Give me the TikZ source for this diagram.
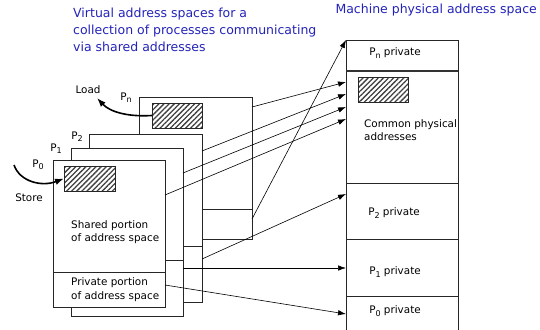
\documentclass[tikz,border=0pt]{standalone}
\usepackage{fontspec}
\setmainfont{DejaVu Sans}
\usetikzlibrary{arrows.meta,patterns.meta}
\definecolor{titleblue}{RGB}{35,35,185}
\newcommand\lowsub[1]{\raisebox{-0.4ex}{\fontsize{8}{8}\selectfont #1}}

\begin{document}
\begin{tikzpicture}[x=1pt,y=-1pt,
  space/.style={draw=black!85, line width=0.7pt, fill=white, inner sep=0, outer sep=0},
  hatch/.style={draw=black!85, line width=0.7pt, inner sep=0, outer sep=0,
    pattern={Lines[angle=45,distance=3.6pt,line width=1.3pt]}, pattern color=black!75},
  link/.style={-{Latex[length=8pt,width=5.5pt]}, line width=0.6pt},
  access/.style={-{Latex[length=9pt,width=6.5pt]}, line width=1.6pt},
  lbl/.style={font=\fontsize{10.4}{13.6}\selectfont, inner sep=0, align=left},
  heading/.style={font=\fontsize{12.5}{17}\selectfont, text=titleblue, inner sep=0, align=left}]
\useasboundingbox (0,0) rectangle (540,329);

% headings
\node[heading, anchor=north west] (virt) at (73,8) {Virtual address spaces for a\\collection of processes communicating\\via shared addresses};
\node[heading, anchor=east] (mach) at (537,10) {Machine physical address space};

% stacked virtual address spaces, back to front
\node[space, minimum width=113pt, minimum height=142pt, anchor=north west] (pn) at (139,97) {};
\draw[line width=0.7pt, black!85] (pn.west |- 0,209) -- (pn.east |- 0,209);
\node[hatch, minimum width=50pt, minimum height=25pt, anchor=north west] (hn) at (152,103) {};

\node[space, minimum width=113pt, minimum height=168pt, anchor=north west] (p2) at (89,134) {};
\draw[line width=0.7pt, black!85] (p2.west |- 0,246) -- (p2.east |- 0,246);

\node[space, minimum width=112pt, minimum height=168pt, anchor=north west] (p1) at (71,148) {};
\draw[line width=0.7pt, black!85] (p1.west |- 0,260) -- (p1.east |- 0,260);

\node[space, minimum width=112pt, minimum height=147pt, anchor=north west] (p0) at (53,160) {};
\draw[line width=0.7pt, black!85] (p0.west |- 0,272) -- (p0.east |- 0,272);
\node[hatch, minimum width=51pt, minimum height=25pt, anchor=north west] (h0) at (64,166) {};

\node[lbl, anchor=west] (shared) at (71,232) {Shared portion\\of address space};
\node[lbl, anchor=west] (priv) at (71,289.5) {Private portion\\of address space};

% process labels
\node[lbl] (l0) at (38,165) {P\lowsub{0}};
\node[lbl] (l1) at (56,149) {P\lowsub{1}};
\node[lbl] (l2) at (77,137) {P\lowsub{2}};
\node[lbl] (ln) at (126,98) {P\lowsub{n}};

% load and store
\node[lbl] (load) at (88,90) {Load};
\node[lbl] (store) at (29,198) {Store};
\coordinate (storefrom) at (14,165);
\draw[access] (hn.west) .. controls (128,117) and (110,112) .. (97,98);
\draw[access] (storefrom) .. controls (20,182) and (42,187) .. (h0.west);

% machine physical address space
\node[space, minimum width=112pt, minimum height=300pt, anchor=north west] (phys) at (346,40) {};
\draw[line width=1.6pt, black!80] (phys.west |- 0,71) -- (phys.east |- 0,71);
\draw[line width=0.7pt, black!85] (phys.west |- 0,183) -- (phys.east |- 0,183);
\draw[line width=0.7pt, black!85] (phys.west |- 0,239) -- (phys.east |- 0,239);
\draw[line width=0.7pt, black!85] (phys.west |- 0,296) -- (phys.east |- 0,296);
\node[hatch, minimum width=50pt, minimum height=25pt, anchor=north west] (hc) at (358,77) {};

\node[lbl] (ppn) at (395,53) {P\lowsub{n} private};
\node[lbl, anchor=west] (common) at (364,130) {Common physical\\addresses};
\node[lbl] (pp2) at (394,213) {P\lowsub{2} private};
\node[lbl] (pp1) at (395,272) {P\lowsub{1} private};
\node[lbl] (pp0) at (395,311) {P\lowsub{0} private};

% mappings from virtual to physical
\draw[link] (pn.east |- 0,107) -- (phys.west |- 0,82);
\draw[link] (p2.east |- 0,151) -- (phys.west |- 0,94);
\draw[link] (p1.east |- 0,173) -- (phys.west |- 0,107);
\draw[link] (p0.east |- 0,195) -- (phys.west |- 0,119);
\draw[link] (pn.east |- 0,219) -- (phys.north west);
\draw[link] (p2.east |- 0,259) -- (phys.west |- 0,194);
\draw[link] (p1.east |- 0,268) -- (phys.west |- 0,268);
\draw[link] (p0.east |- 0,285) -- (phys.west |- 0,314);
\end{tikzpicture}
\end{document}
